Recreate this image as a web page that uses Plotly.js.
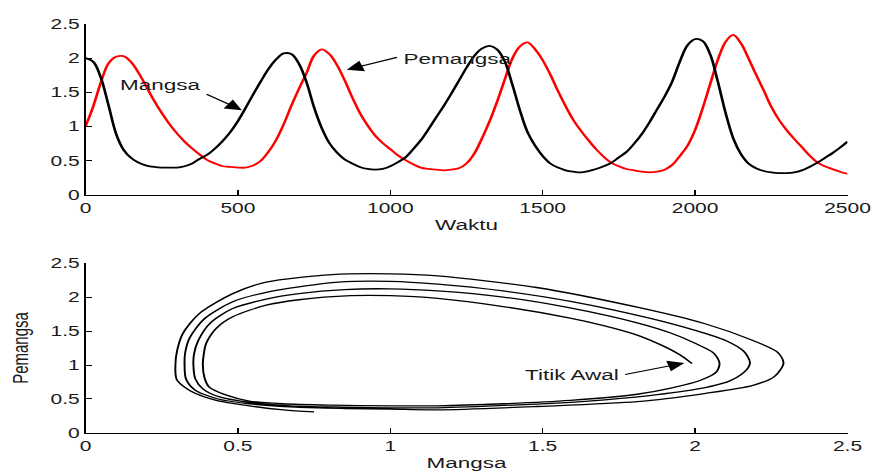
<!DOCTYPE html>
<html>
<head>
<meta charset="utf-8">
<script src="https://cdn.plot.ly/plotly-3.0.1.min.js"></script>
<style>
  html, body { margin: 0; padding: 0; background: #fff; overflow: hidden; }
  #wrap { width: 878px; height: 474px; overflow: hidden; }
  #chart { width: 585px; height: 474px; transform: scaleX(1.5); transform-origin: 0 0; }
</style>
</head>
<body>
<div id="wrap"><div id="chart"></div></div>
<script>
// ---- Upper panel: time series ----
const waktu = [
  0,25,50,75,100,125,150,175,200,225,
  250,275,300,325,350,375,400,425,450,475,
  500,525,550,575,600,625,650,675,700,725,
  750,775,800,825,850,875,900,925,950,975,
  1000,1025,1050,1075,1100,1125,1150,1175,1200,1225,
  1250,1275,1300,1325,1350,1375,1400,1425,1450,1475,
  1500,1525,1550,1575,1600,1625,1650,1675,1700,1725,
  1750,1775,1800,1825,1850,1875,1900,1925,1950,1975,
  2000,2025,2050,2075,2100,2125,2150,2175,2200,2225,
  2250,2275,2300,2325,2350,2375,2400,2425,2450,2475,
  2500
];
// Prey (Mangsa) - black
const mangsa = [
  2.00,1.95,1.72,1.32,0.90,0.66,0.54,0.47,0.43,0.41,
  0.40,0.40,0.40,0.42,0.46,0.53,0.59,0.68,0.79,0.92,
  1.08,1.27,1.47,1.66,1.84,1.98,2.07,2.06,1.92,1.65,
  1.28,0.98,0.76,0.62,0.52,0.46,0.41,0.38,0.37,0.38,
  0.42,0.48,0.55,0.67,0.80,0.96,1.13,1.30,1.48,1.67,
  1.86,2.03,2.14,2.18,2.13,1.96,1.62,1.24,0.92,0.72,
  0.57,0.46,0.40,0.36,0.34,0.33,0.35,0.38,0.42,0.47,
  0.55,0.63,0.75,0.89,1.06,1.25,1.44,1.66,1.95,2.19,
  2.28,2.25,2.05,1.65,1.20,0.83,0.60,0.46,0.39,0.35,
  0.33,0.32,0.32,0.33,0.36,0.41,0.47,0.54,0.61,0.69,
  0.78
];
// Predator (Pemangsa) - red
const pemangsa = [
  1.00,1.29,1.64,1.92,2.02,2.03,1.94,1.78,1.58,1.38,
  1.20,1.04,0.90,0.78,0.68,0.59,0.51,0.46,0.42,0.41,
  0.40,0.40,0.43,0.50,0.63,0.80,1.03,1.30,1.55,1.78,
  2.04,2.13,2.06,1.90,1.68,1.43,1.20,1.02,0.87,0.76,
  0.67,0.58,0.51,0.45,0.40,0.38,0.37,0.36,0.37,0.39,
  0.46,0.60,0.82,1.07,1.36,1.68,1.99,2.17,2.23,2.13,
  1.97,1.76,1.52,1.30,1.10,0.94,0.80,0.67,0.56,0.47,
  0.42,0.38,0.36,0.34,0.33,0.34,0.37,0.44,0.57,0.72,
  0.95,1.27,1.63,1.98,2.24,2.34,2.22,2.00,1.76,1.53,
  1.29,1.10,0.95,0.82,0.70,0.58,0.48,0.42,0.38,0.34,
  0.31
];

// ---- Lower panel: phase trajectory read along the spiral, from "Titik Awal" ----
const faseMangsa = [
  1.99,1.95,1.90,1.81,1.70,1.59,1.37,1.155,1.00,0.87,
  0.70,0.593,0.483,0.429,0.396,0.388,0.385,
  0.39,0.405,0.46,0.537,0.646,0.81,1.00,
  1.155,1.37,1.59,1.81,1.92,2.02,2.07,2.08,
  2.06,2.00,1.92,1.81,1.59,1.37,1.155,1.00,0.85,
  0.70,0.593,0.483,0.41,0.37,0.356,0.354,
  0.36,0.385,0.44,0.537,0.67,0.85,1.00,
  1.155,1.40,1.65,1.85,2.00,2.11,2.16,2.18,
  2.16,2.10,2.00,1.85,1.60,1.37,1.155,1.00,0.83,
  0.70,0.593,0.483,0.39,0.342,0.327,0.325,
  0.33,0.36,0.435,0.537,0.69,0.85,1.00,
  1.155,1.48,1.81,2.03,2.19,2.26,2.29,
  2.27,2.19,2.03,1.81,1.48,1.155,1.00,0.81,
  0.593,0.483,0.374,0.319,0.30,0.295,
  0.30,0.348,0.429,0.537,0.65,0.75
];
const fasePemangsa = [
  1.02,1.15,1.27,1.44,1.58,1.69,1.86,1.98,2.02,2.02,
  1.96,1.88,1.71,1.54,1.32,1.16,1.00,
  0.82,0.68,0.56,0.47,0.43,0.41,0.40,
  0.40,0.43,0.48,0.57,0.66,0.78,0.90,1.03,
  1.18,1.32,1.47,1.62,1.84,2.00,2.09,2.12,2.11,
  2.05,1.97,1.83,1.62,1.36,1.16,1.00,
  0.80,0.65,0.53,0.45,0.40,0.38,0.37,
  0.37,0.41,0.47,0.55,0.64,0.76,0.89,1.03,
  1.20,1.36,1.51,1.69,1.93,2.09,2.19,2.23,2.22,
  2.15,2.07,1.93,1.68,1.40,1.18,1.00,
  0.79,0.63,0.50,0.43,0.38,0.36,0.35,
  0.34,0.39,0.46,0.58,0.70,0.83,1.03,
  1.19,1.36,1.61,1.85,2.14,2.31,2.34,2.33,
  2.22,2.05,1.76,1.46,1.20,1.00,
  0.78,0.61,0.48,0.40,0.34,0.31
];

const xTicksTop = [0,500,1000,1500,2000,2500];
const xTicksBottom = [0,0.5,1,1.5,2,2.5];
const yTicks = [0,0.5,1,1.5,2,2.5];

const FONT = 'Liberation Sans, Arial, Helvetica, sans-serif';
const txtColor = '#1a1a1a';

const traces = [
  {x: waktu, y: pemangsa, type: 'scatter', mode: 'lines', xaxis: 'x', yaxis: 'y',
   line: {color: '#ff0000', width: 1.8, shape: 'spline', smoothing: 1}, name: 'Pemangsa'},
  {x: waktu, y: mangsa, type: 'scatter', mode: 'lines', xaxis: 'x', yaxis: 'y',
   line: {color: '#000000', width: 1.8, shape: 'spline', smoothing: 1}, name: 'Mangsa'},
  {x: faseMangsa, y: fasePemangsa, type: 'scatter', mode: 'lines', xaxis: 'x2', yaxis: 'y2',
   line: {color: '#000000', width: 1.3, shape: 'spline', smoothing: 0.8}, name: 'Fase'}
];

const axisBase = {
  showline: true, linecolor: '#000', linewidth: 1, mirror: false,
  showgrid: false, zeroline: false, ticks: 'inside', tickcolor: '#000',
  tickwidth: 1, tickfont: {family: FONT, size: 14, color: txtColor}
};

const layout = {
  width: 585, height: 474,
  margin: {l: 57, r: 20, t: 24, b: 41},
  paper_bgcolor: '#fff', plot_bgcolor: '#fff',
  showlegend: false,
  font: {family: FONT, size: 14, color: txtColor},
  xaxis: Object.assign({}, axisBase, {
    domain: [0, 1], anchor: 'y', range: [0, 2500], tickvals: xTicksTop, ticklen: 5,
    title: {text: 'Waktu', font: {family: FONT, size: 15, color: txtColor}, standoff: 4}
  }),
  yaxis: Object.assign({}, axisBase, {
    domain: [0.582, 1], anchor: 'x', range: [0, 2.5], tickvals: yTicks, ticklen: 4
  }),
  xaxis2: Object.assign({}, axisBase, {
    domain: [0, 1], anchor: 'y2', range: [0, 2.5], tickvals: xTicksBottom, ticklen: 5,
    title: {text: 'Mangsa', font: {family: FONT, size: 15, color: txtColor}, standoff: 4}
  }),
  yaxis2: Object.assign({}, axisBase, {
    domain: [0, 0.4156], anchor: 'x2', range: [0, 2.5], tickvals: yTicks, ticklen: 4,
    title: {text: 'Pemangsa', font: {family: FONT, size: 15, color: txtColor}, standoff: 10}
  }),
  annotations: [
    {xref: 'x', yref: 'y', x: 244, y: 1.62, text: 'Mangsa', showarrow: false,
     font: {family: FONT, size: 15, color: txtColor}},
    {xref: 'x', yref: 'y', x: 513, y: 1.24, text: '', showarrow: true,
     ax: -25, ay: -17, arrowhead: 2, arrowsize: 2, arrowwidth: 1.1, arrowcolor: '#000'},
    {xref: 'x', yref: 'y', x: 1221, y: 2.0, text: 'Pemangsa', showarrow: false,
     font: {family: FONT, size: 15, color: txtColor}},
    {xref: 'x', yref: 'y', x: 857, y: 1.83, text: '', showarrow: true,
     ax: 35, ay: -13, arrowhead: 2, arrowsize: 2, arrowwidth: 1.1, arrowcolor: '#000'},
    {xref: 'x2', yref: 'y2', x: 1.598, y: 0.853, text: 'Titik Awal', showarrow: false,
     font: {family: FONT, size: 15, color: txtColor}},
    {xref: 'x2', yref: 'y2', x: 1.965, y: 1.03, text: '', showarrow: true,
     ax: -41, ay: 12, arrowhead: 2, arrowsize: 2, arrowwidth: 1.1, arrowcolor: '#000'}
  ]
};

Plotly.newPlot('chart', traces, layout, {displayModeBar: false, staticPlot: true});
</script>
</body>
</html>
